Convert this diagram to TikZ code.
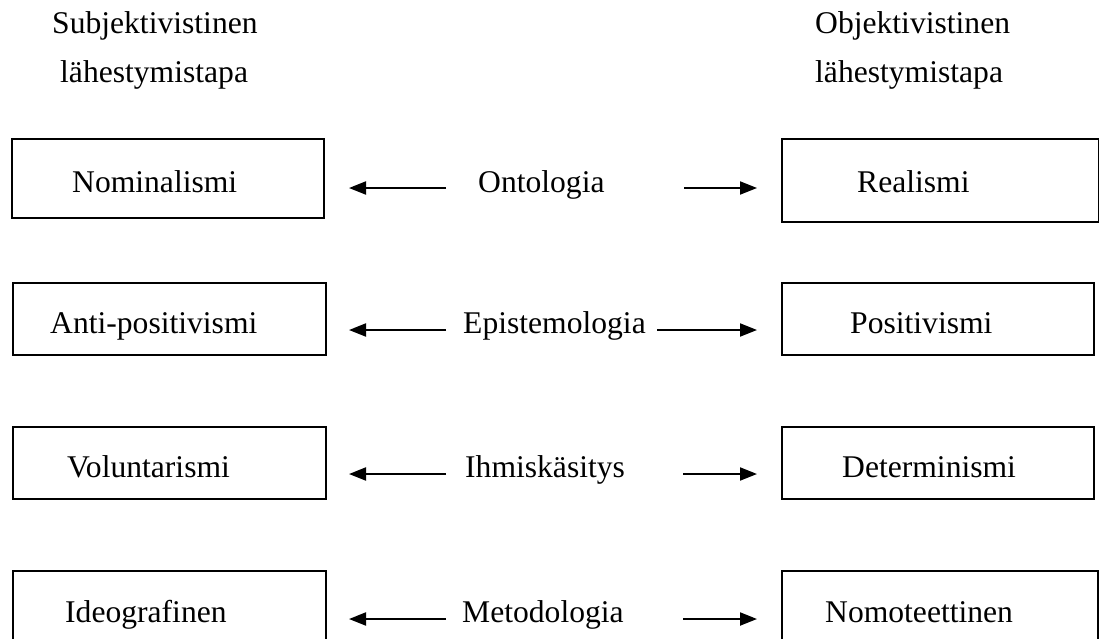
\documentclass[tikz,border=0pt]{standalone}
\usepackage{fontspec}
\setmainfont{Liberation Serif}
\usetikzlibrary{arrows.meta}
\begin{document}
\begin{tikzpicture}[x=1pt,y=-1pt,
  box/.style={draw,line width=1.8pt,anchor=north west,inner sep=0pt},
  lbl/.style={anchor=base west,inner sep=0pt,font=\fontsize{31.6}{38}\selectfont},
  conn/.style={line width=2pt,-{Triangle[length=17pt,width=13pt]}}]
\useasboundingbox (0,0) rectangle (1099,638);
\clip (0,0) rectangle (1099,638);

% headers
\node[lbl] (hl1) at (52,33) {Subjektivistinen};
\node[lbl] (hl2) at (60,82) {lähestymistapa};
\node[lbl] (hr1) at (815,33) {Objektivistinen};
\node[lbl] (hr2) at (815,82) {lähestymistapa};

% boxes
\node[box,minimum width=312pt,minimum height=79pt] (bl1) at (11,138) {};
\node[box,minimum width=317pt,minimum height=83pt] (br1) at (781,138) {};
\node[box,minimum width=313pt,minimum height=72pt] (bl2) at (12,282) {};
\node[box,minimum width=312pt,minimum height=72pt] (br2) at (781,282) {};
\node[box,minimum width=313pt,minimum height=72pt] (bl3) at (12,426) {};
\node[box,minimum width=312pt,minimum height=72pt] (br3) at (781,426) {};
\node[box,minimum width=313pt,minimum height=90pt] (bl4) at (12,570) {};
\node[box,minimum width=316pt,minimum height=90pt] (br4) at (781,570) {};

% box texts
\node[lbl] (tl1) at (72,192) {Nominalismi};
\node[lbl] (tr1) at (857,192) {Realismi};
\node[lbl] (tl2) at (50,333) {Anti-positivismi};
\node[lbl] (tr2) at (850,333) {Positivismi};
\node[lbl] (tl3) at (67,477) {Voluntarismi};
\node[lbl] (tr3) at (842,477) {Determinismi};
\node[lbl] (tl4) at (65,622) {Ideografinen};
\node[lbl] (tr4) at (825,622) {Nomoteettinen};

% middle labels
\node[lbl] (m1) at (478,192) {Ontologia};
\node[lbl] (m2) at (463,333) {Epistemologia};
\node[lbl] (m3) at (465,477) {Ihmiskäsitys};
\node[lbl] (m4) at (462,622) {Metodologia};

% arrow end points
\coordinate (ls1) at (446,188); \coordinate (le1) at (349,188);
\coordinate (rs1) at (684,188); \coordinate (re1) at (757,188);
\coordinate (ls2) at (446,330); \coordinate (le2) at (349,330);
\coordinate (rs2) at (657,330); \coordinate (re2) at (757,330);
\coordinate (ls3) at (446,474); \coordinate (le3) at (349,474);
\coordinate (rs3) at (683,474); \coordinate (re3) at (757,474);
\coordinate (ls4) at (446,619); \coordinate (le4) at (349,619);
\coordinate (rs4) at (683,619); \coordinate (re4) at (757,619);

\draw[conn] (ls1) -- (le1);
\draw[conn] (rs1) -- (re1);
\draw[conn] (ls2) -- (le2);
\draw[conn] (rs2) -- (re2);
\draw[conn] (ls3) -- (le3);
\draw[conn] (rs3) -- (re3);
\draw[conn] (ls4) -- (le4);
\draw[conn] (rs4) -- (re4);
\end{tikzpicture}
\end{document}
